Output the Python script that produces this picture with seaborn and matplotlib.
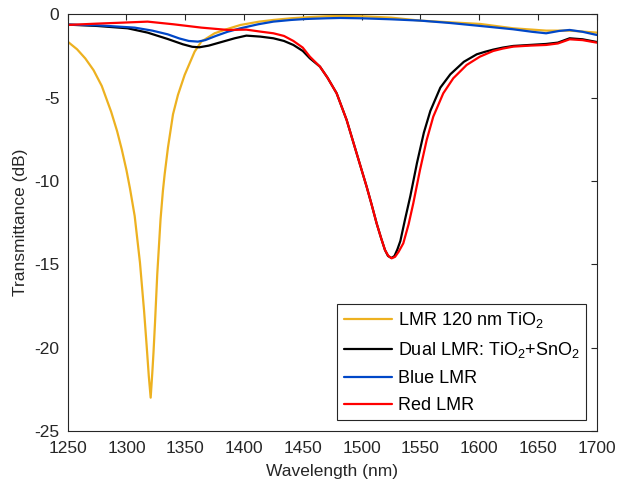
import numpy as np
import pandas as pd
import matplotlib
matplotlib.use("Agg")
import matplotlib.pyplot as plt
import seaborn as sns

# Spectra (wavelength in nm, transmittance in dB)
wl_tio2 = [1250, 1258, 1265, 1272, 1279, 1287, 1292, 1296, 1300, 1303, 1307, 1311.5,
           1315, 1317.2, 1319, 1320.6, 1322, 1323, 1324.3, 1326.2, 1329, 1331, 1332.5,
           1335.3, 1339.6, 1343.8, 1349.5, 1358, 1363.7, 1375, 1385, 1397, 1413, 1425,
           1440, 1453, 1470, 1482, 1500, 1525, 1550, 1575, 1601, 1629, 1657, 1677, 1700]
db_tio2 = [-1.64, -2.1, -2.65, -3.35, -4.3, -5.85, -7.0, -8.1, -9.35, -10.45, -12.1, -14.9,
           -17.8, -19.9, -21.7, -23.0, -21.5, -20.3, -18.5, -15.6, -12.3, -10.6, -9.6,
           -8.0, -6.0, -4.84, -3.64, -2.24, -1.64, -1.14, -0.9, -0.64, -0.44, -0.34,
           -0.24, -0.18, -0.12, -0.1, -0.12, -0.2, -0.38, -0.48, -0.58, -0.84, -0.98, -0.98, -1.1]

wl_dual = [1250, 1275, 1301, 1318, 1335, 1348, 1356, 1362, 1370, 1382, 1392, 1402,
           1414, 1425, 1434, 1442, 1450, 1456, 1464.6, 1471, 1478.8, 1487.3, 1495.8, 1504.3,
           1508.5, 1512.8, 1516.5, 1519.9, 1522.5, 1525.5, 1528, 1530.5, 1533, 1537, 1541.5,
           1547.2, 1553, 1558.5, 1567, 1575.5, 1587, 1598, 1605, 1612, 1620, 1629, 1643,
           1657, 1667, 1677, 1688, 1700]
db_dual = [-0.62, -0.7, -0.84, -1.1, -1.48, -1.8, -1.95, -1.98, -1.88, -1.64, -1.44, -1.28,
           -1.34, -1.44, -1.6, -1.84, -2.2, -2.64, -3.14, -3.8, -4.74, -6.34, -8.34, -10.34,
           -11.4, -12.54, -13.4, -14.14, -14.5, -14.62, -14.5, -14.1, -13.6, -12.3, -10.9,
           -8.9, -7.1, -5.8, -4.4, -3.6, -2.85, -2.4, -2.25, -2.12, -2.0, -1.9, -1.84,
           -1.78, -1.7, -1.44, -1.5, -1.66]

wl_blue = [1250, 1275, 1307, 1322, 1335, 1345, 1353, 1360.8, 1367, 1376, 1386, 1397,
           1412, 1425, 1440, 1453, 1470, 1482, 1500, 1525, 1550, 1575, 1601, 1629,
           1645, 1657, 1668, 1677, 1688, 1700]
db_blue = [-0.62, -0.66, -0.8, -0.98, -1.2, -1.45, -1.6, -1.64, -1.55, -1.3, -1.05, -0.84,
           -0.6, -0.44, -0.34, -0.28, -0.24, -0.22, -0.24, -0.3, -0.38, -0.52, -0.7, -0.9,
           -1.05, -1.14, -1.0, -0.94, -1.05, -1.24]

wl_red = [1250, 1275, 1297, 1318, 1340, 1363.7, 1386.4, 1402, 1414, 1425, 1434, 1442,
          1450, 1456, 1464.6, 1471, 1478.8, 1487.3, 1495.8, 1504.3, 1508.5, 1512.8, 1516.5,
          1519.9, 1522.8, 1525.6, 1528.5, 1531.5, 1535.5, 1540, 1544, 1549.7, 1555.4, 1561,
          1569.5, 1578, 1589.4, 1600.7, 1612, 1620, 1629, 1643, 1657, 1667, 1677, 1688, 1700]
db_red = [-0.64, -0.56, -0.5, -0.44, -0.6, -0.8, -0.94, -0.92, -1.04, -1.14, -1.3, -1.6,
          -2.0, -2.54, -3.14, -3.8, -4.74, -6.34, -8.34, -10.34, -11.4, -12.54, -13.4,
          -14.14, -14.5, -14.64, -14.55, -14.25, -13.74, -12.6, -11.34, -9.34, -7.54, -6.14,
          -4.74, -3.84, -3.04, -2.54, -2.2, -2.06, -1.94, -1.88, -1.84, -1.75, -1.5, -1.55, -1.7]

labels = ["LMR 120 nm TiO$_2$", "Dual LMR: TiO$_2$+SnO$_2$", "Blue LMR", "Red LMR"]
colors = ["#EDB120", "#000000", "#0047C8", "#FF0000"]

frames = []
for wl, db, lab in zip([wl_tio2, wl_dual, wl_blue, wl_red],
                       [db_tio2, db_dual, db_blue, db_red], labels):
    frames.append(pd.DataFrame({"Wavelength": wl, "Transmittance": db, "Curve": lab}))
data = pd.concat(frames, ignore_index=True)

sns.set_theme(style="white")
plt.rcParams["font.family"] = ["Liberation Sans", "DejaVu Sans"]
plt.rcParams["mathtext.fontset"] = "custom"
plt.rcParams["mathtext.rm"] = "Liberation Sans"
plt.rcParams["mathtext.it"] = "Liberation Sans"
plt.rcParams["mathtext.default"] = "regular"
plt.rcParams["axes.unicode_minus"] = False

ink = "#262626"
fig = plt.figure(figsize=(6.18, 4.91), dpi=100)
ax = fig.add_axes([0.1095, 0.1222, 0.856, 0.8487])

sns.lineplot(data=data, x="Wavelength", y="Transmittance", hue="Curve",
             hue_order=labels, palette=colors, linewidth=1.6, sort=False,
             estimator=None, ax=ax)

ax.set_xlim(1250, 1700)
ax.set_ylim(-25, 0)
ax.set_xticks(np.arange(1250, 1701, 50))
ax.set_yticks(np.arange(-25, 1, 5))
ax.set_xlabel("Wavelength (nm)", fontsize=12.5, color=ink, labelpad=6)
ax.set_ylabel("Transmittance (dB)", fontsize=12.5, color=ink, labelpad=4.5)
ax.tick_params(direction="in", length=4.3, width=0.8, colors=ink, labelsize=12.5,
               top=True, right=True)
ax.tick_params(axis="x", pad=7)
ax.tick_params(axis="y", pad=6)
for s in ax.spines.values():
    s.set_color(ink)
    s.set_linewidth(0.8)

leg = ax.legend(loc="lower right", fontsize=13, frameon=True, fancybox=False,
                edgecolor=ink, framealpha=1, borderpad=0.35, labelspacing=0.55,
                handlelength=2.7, handletextpad=0.3, borderaxespad=0.6)
leg.get_frame().set_linewidth(0.8)
for t in leg.get_texts():
    t.set_color("#000000")

fig.savefig("out.png", dpi=100)
